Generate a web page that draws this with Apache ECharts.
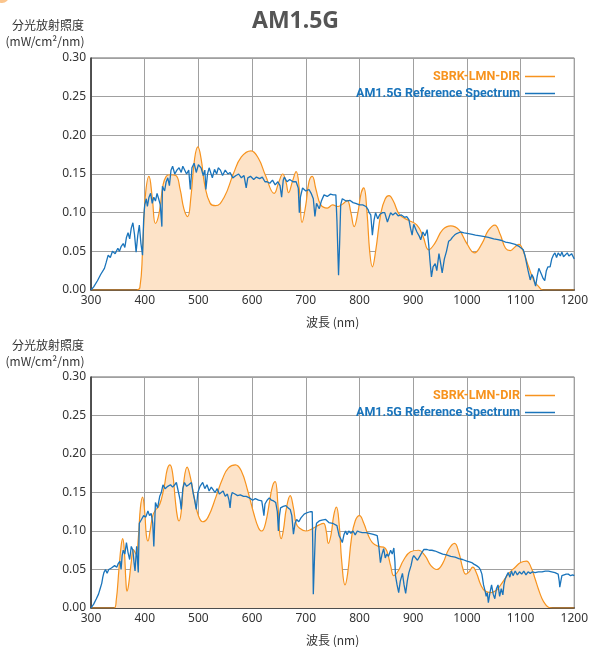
<!DOCTYPE html>
<html>
<head>
<meta charset="utf-8">
<script src="https://cdn.jsdelivr.net/npm/echarts@6/dist/echarts.min.js"></script>
<style>
html,body{margin:0;padding:0;background:#fff;overflow:hidden;}
#c{width:591px;height:647px;}
</style>
</head>
<body>
<div id="c"></div>
<script>
// ---- data ----
var xTicks = [300,400,500,600,700,800,900,1000,1100,1200];
var yTicks = [0,0.05,0.10,0.15,0.20,0.25,0.30];
var seriesNames = ['SBRK-LMN-DIR','AM1.5G Reference Spectrum'];

var sbrkTop = [[300,0],[385,0],[391,0.003],[396,0.05],[401,0.12],[408,0.147],[414,0.12],[420,0.086],[427,0.1],[434,0.135],[440,0.147],[447,0.149],[458,0.148],[466,0.13],[473,0.105],[480,0.095],[486,0.12],[493,0.17],[499,0.185],[505,0.17],[512,0.135],[522,0.112],[532,0.109],[548,0.12],[565,0.15],[580,0.172],[598,0.18],[612,0.17],[625,0.148],[641,0.125],[650,0.14],[657,0.150],[663,0.14],[668,0.126],[675,0.14],[682,0.153],[688,0.13],[693,0.087],[700,0.11],[706,0.14],[712,0.147],[719,0.13],[728,0.11],[740,0.106],[750,0.11],[760,0.108],[770,0.112],[777,0.116],[784,0.1],[790,0.082],[797,0.1],[803,0.125],[808,0.132],[814,0.1],[819,0.05],[824,0.030],[830,0.05],[840,0.1],[848,0.118],[855,0.122],[863,0.115],[875,0.097],[892,0.09],[907,0.084],[918,0.07],[929,0.052],[940,0.06],[955,0.078],[970,0.083],[985,0.078],[1000,0.06],[1014,0.048],[1028,0.06],[1040,0.077],[1052,0.084],[1062,0.072],[1072,0.054],[1081,0.051],[1090,0.056],[1097,0.059],[1105,0.05],[1115,0.03],[1125,0.012],[1133,0.005],[1142,0],[1200,0]];

var am15Top = [[300,0],[305,0.004],[312,0.012],[318,0.02],[325,0.028],[328,0.035],[332,0.045],[336,0.042],[340,0.05],[345,0.047],[350,0.054],[353,0.05],[356,0.056],[360,0.06],[363,0.055],[366,0.068],[369,0.074],[372,0.066],[375,0.08],[378,0.087],[381,0.072],[384,0.049],[387,0.07],[390,0.084],[393,0.06],[396,0.045],[398,0.09],[400,0.110],[403,0.118],[405,0.108],[408,0.12],[411,0.125],[414,0.112],[417,0.12],[420,0.115],[423,0.125],[426,0.118],[429,0.11],[432,0.082],[433,0.134],[437,0.128],[440,0.14],[443,0.145],[446,0.135],[449,0.155],[452,0.16],[456,0.15],[460,0.155],[464,0.158],[468,0.152],[471,0.16],[474,0.16],[478,0.15],[482,0.155],[485,0.13],[488,0.158],[492,0.164],[496,0.152],[500,0.162],[505,0.158],[509,0.148],[512,0.155],[514,0.13],[517,0.15],[520,0.158],[522,0.16],[526,0.145],[530,0.156],[534,0.15],[537,0.158],[541,0.155],[545,0.148],[550,0.155],[555,0.15],[559,0.152],[564,0.145],[570,0.148],[575,0.15],[580,0.145],[585,0.148],[589,0.132],[592,0.145],[597,0.147],[603,0.143],[608,0.146],[614,0.144],[619,0.146],[624,0.14],[628,0.14],[633,0.138],[638,0.142],[643,0.136],[648,0.14],[652,0.135],[655,0.12],[658,0.142],[660,0.146],[665,0.14],[670,0.143],[676,0.14],[682,0.14],[686,0.132],[688,0.1],[690,0.12],[694,0.132],[700,0.128],[706,0.13],[710,0.125],[714,0.118],[717,0.095],[720,0.112],[725,0.105],[729,0.115],[734,0.123],[740,0.121],[746,0.124],[751,0.123],[756,0.123],[758,0.09],[761,0.019],[763,0.06],[765,0.11],[768,0.118],[775,0.115],[782,0.116],[788,0.113],[793,0.112],[800,0.11],[806,0.11],[812,0.108],[816,0.104],[818,0.1],[821,0.097],[824,0.071],[827,0.09],[830,0.1],[834,0.092],[838,0.098],[843,0.1],[847,0.1],[849,0.1],[852,0.088],[855,0.09],[858,0.1],[862,0.097],[867,0.1],[872,0.096],[878,0.097],[884,0.094],[888,0.095],[892,0.091],[895,0.08],[898,0.071],[901,0.085],[904,0.08],[907,0.075],[911,0.07],[914,0.065],[918,0.075],[922,0.07],[926,0.078],[929,0.058],[931,0.04],[934,0.017],[937,0.03],[941,0.034],[944,0.025],[948,0.047],[951,0.035],[954,0.022],[958,0.04],[962,0.05],[966,0.063],[970,0.065],[973,0.068],[977,0.071],[981,0.073],[988,0.075],[995,0.074],[1003,0.073],[1010,0.072],[1016,0.071],[1025,0.07],[1033,0.069],[1040,0.068],[1050,0.066],[1058,0.065],[1065,0.064],[1072,0.062],[1080,0.061],[1090,0.059],[1098,0.056],[1105,0.052],[1108,0.045],[1111,0.035],[1114,0.025],[1118,0.013],[1121,0.02],[1124,0.016],[1126,0.01],[1128,0.005],[1131,0.018],[1134,0.028],[1136,0.03],[1139,0.02],[1142,0.015],[1145,0.012],[1148,0.025],[1151,0.03],[1155,0.03],[1158,0.04],[1161,0.045],[1164,0.048],[1167,0.042],[1170,0.048],[1174,0.044],[1177,0.049],[1180,0.043],[1183,0.043],[1187,0.048],[1190,0.044],[1195,0.047],[1200,0.04]];

var sbrkBot = [[300,0],[343,0],[347,0.01],[352,0.05],[356,0.08],[359,0.09],[362,0.075],[365,0.035],[367,0.022],[370,0.03],[375,0.06],[379,0.076],[384,0.07],[388,0.09],[392,0.13],[396,0.144],[400,0.125],[403,0.095],[406,0.087],[410,0.1],[415,0.12],[420,0.127],[426,0.132],[431,0.141],[437,0.16],[442,0.18],[447,0.186],[452,0.175],[457,0.14],[461,0.118],[464,0.113],[468,0.125],[473,0.165],[479,0.183],[485,0.17],[493,0.141],[500,0.12],[508,0.112],[518,0.118],[533,0.145],[545,0.168],[556,0.182],[569,0.186],[580,0.178],[592,0.152],[603,0.123],[612,0.104],[618,0.1],[625,0.11],[633,0.14],[638,0.158],[643,0.164],[648,0.135],[651,0.1],[654,0.09],[658,0.1],[664,0.13],[671,0.146],[677,0.13],[682,0.11],[688,0.104],[700,0.10],[712,0.103],[725,0.108],[733,0.11],[738,0.1],[742,0.084],[747,0.095],[752,0.12],[757,0.131],[762,0.11],[767,0.06],[773,0.03],[778,0.045],[785,0.09],[792,0.113],[800,0.12],[808,0.11],[816,0.095],[824,0.085],[835,0.08],[845,0.079],[851,0.074],[858,0.055],[864,0.042],[872,0.048],[882,0.062],[895,0.073],[910,0.075],[922,0.068],[933,0.055],[944,0.05],[955,0.058],[966,0.076],[977,0.084],[985,0.072],[993,0.05],[998,0.044],[1004,0.047],[1011,0.053],[1018,0.045],[1026,0.03],[1034,0.022],[1045,0.02],[1055,0.023],[1066,0.033],[1077,0.044],[1090,0.053],[1100,0.059],[1111,0.061],[1120,0.052],[1127,0.038],[1133,0.025],[1140,0.012],[1146,0.005],[1152,0.001],[1160,0],[1200,0]];

var am15Bot = [[300,0],[305,0.005],[310,0.012],[314,0.018],[317,0.025],[320,0.032],[322,0.04],[324,0.046],[327,0.05],[330,0.045],[333,0.05],[335,0.048],[338,0.052],[341,0.05],[344,0.055],[348,0.053],[351,0.058],[354,0.061],[356,0.05],[358,0.068],[360,0.075],[363,0.07],[366,0.085],[369,0.072],[372,0.063],[375,0.08],[378,0.075],[380,0.06],[382,0.048],[385,0.08],[388,0.046],[390,0.11],[394,0.115],[398,0.12],[402,0.118],[406,0.126],[409,0.12],[412,0.123],[415,0.11],[417,0.08],[420,0.137],[424,0.13],[428,0.145],[431,0.15],[434,0.16],[438,0.155],[443,0.158],[448,0.16],[452,0.157],[456,0.16],[459,0.163],[463,0.15],[466,0.14],[468,0.128],[471,0.155],[474,0.163],[478,0.158],[482,0.16],[487,0.163],[490,0.15],[493,0.14],[496,0.128],[499,0.15],[503,0.158],[508,0.163],[512,0.155],[516,0.16],[520,0.152],[524,0.157],[527,0.154],[531,0.15],[535,0.155],[539,0.148],[542,0.15],[546,0.152],[550,0.145],[554,0.148],[557,0.14],[559,0.13],[561,0.145],[563,0.15],[568,0.148],[573,0.146],[578,0.147],[584,0.145],[589,0.145],[595,0.143],[601,0.14],[606,0.142],[612,0.14],[618,0.139],[620,0.13],[622,0.12],[624,0.135],[628,0.14],[632,0.143],[636,0.14],[640,0.139],[644,0.137],[647,0.125],[649,0.1],[651,0.12],[653,0.13],[658,0.132],[663,0.133],[667,0.13],[671,0.128],[674,0.12],[677,0.096],[680,0.11],[683,0.115],[687,0.112],[691,0.117],[697,0.122],[703,0.124],[708,0.125],[712,0.125],[713,0.08],[714,0.018],[716,0.06],[718,0.1],[720,0.11],[725,0.113],[730,0.114],[737,0.115],[743,0.111],[750,0.11],[758,0.107],[762,0.094],[765,0.09],[768,0.085],[771,0.095],[774,0.1],[777,0.095],[780,0.1],[784,0.097],[788,0.1],[792,0.095],[796,0.1],[800,0.099],[805,0.098],[812,0.098],[818,0.097],[824,0.096],[829,0.095],[833,0.094],[836,0.08],[839,0.059],[842,0.07],[845,0.077],[848,0.065],[851,0.07],[854,0.067],[858,0.075],[861,0.07],[864,0.078],[866,0.06],[867,0.042],[870,0.03],[873,0.02],[876,0.035],[880,0.045],[883,0.03],[886,0.019],[889,0.035],[892,0.046],[896,0.055],[899,0.065],[901,0.068],[904,0.07],[908,0.062],[913,0.068],[917,0.073],[920,0.076],[925,0.076],[930,0.075],[935,0.075],[941,0.074],[948,0.072],[955,0.07],[962,0.069],[970,0.067],[978,0.066],[985,0.064],[992,0.063],[1000,0.061],[1005,0.06],[1009,0.059],[1013,0.057],[1018,0.055],[1022,0.053],[1025,0.05],[1028,0.044],[1031,0.03],[1034,0.022],[1036,0.015],[1038,0.02],[1040,0.007],[1043,0.02],[1046,0.03],[1049,0.018],[1052,0.012],[1055,0.025],[1058,0.03],[1061,0.015],[1064,0.025],[1067,0.017],[1069,0.03],[1071,0.037],[1074,0.042],[1077,0.046],[1080,0.04],[1083,0.048],[1086,0.042],[1090,0.048],[1094,0.043],[1098,0.047],[1102,0.044],[1106,0.048],[1110,0.043],[1114,0.047],[1118,0.045],[1122,0.047],[1127,0.046],[1133,0.047],[1140,0.047],[1146,0.048],[1152,0.048],[1158,0.047],[1164,0.046],[1170,0.044],[1172,0.035],[1173,0.027],[1175,0.035],[1177,0.042],[1180,0.043],[1185,0.044],[1189,0.044],[1193,0.042],[1197,0.043],[1200,0.042]];

// ---- chart ----
var ORANGE = '#f7931e', BLUE = '#1a74bb', AREA = '#fde3c8';
var FONT = '"Noto Sans CJK JP","Noto Sans",sans-serif';
var chart = echarts.init(document.getElementById('c'), null, {renderer:'canvas', width:591, height:647});

function xAxis(gi){
  return {
    type:'value', gridIndex:gi, min:xTicks[0], max:xTicks[xTicks.length-1], interval:100,
    name:'波長 (nm)', nameLocation:'middle', nameGap:26,
    nameTextStyle:{color:'#333', fontSize:12, fontFamily:FONT},
    axisLine:{show:true, onZero:false, lineStyle:{color:'#333', width:1.5}},
    axisTick:{show:false},
    axisLabel:{color:'#333', fontSize:12, margin:5, fontFamily:'"Noto Sans",sans-serif',
      formatter:function(v){return String(v);}},
    splitLine:{show:true, lineStyle:{color:'#a0a0a0', width:1}}
  };
}
function yAxis(gi){
  return {
    type:'value', gridIndex:gi, min:yTicks[0], max:yTicks[yTicks.length-1], interval:0.05,
    axisLine:{show:true, lineStyle:{color:'#333', width:1.5}},
    axisTick:{show:false},
    axisLabel:{color:'#333', fontSize:12, margin:5, fontFamily:'"Noto Sans",sans-serif',
      formatter:function(v){return v.toFixed(2);}},
    splitLine:{show:true, lineStyle:{color:'#a0a0a0', width:1}}
  };
}
function legend(top){
  return {
    orient:'vertical', right:31, top:top, align:'right', itemGap:4,
    itemWidth:30, itemHeight:1.5, icon:'rect',
    textStyle:{fontSize:12.5, fontWeight:'bold', fontFamily:'Roboto,"Noto Sans",sans-serif', padding:[0,0,0,0]},
    selectedMode:false,
    data:[{name:seriesNames[0], textStyle:{color:ORANGE}},{name:seriesNames[1], textStyle:{color:BLUE}}]
  };
}
function orange(gi, data){
  return {name:seriesNames[0], type:'line', xAxisIndex:gi, yAxisIndex:gi, data:data,
    smooth:0.45, symbol:'none', color:ORANGE,
    lineStyle:{color:ORANGE, width:1.2}, areaStyle:{color:AREA, opacity:1}, z:2};
}
function blue(gi, data){
  return {name:seriesNames[1], type:'line', xAxisIndex:gi, yAxisIndex:gi, data:data,
    symbol:'none', color:BLUE, lineStyle:{color:BLUE, width:1.3}, z:3};
}

chart.setOption({
  animation:false,
  backgroundColor:'#fff',
  grid:[
    {left:91, right:11, top:58, height:232, show:true, borderColor:'#666', borderWidth:1},
    {left:91, right:11, top:377, height:232, show:true, borderColor:'#666', borderWidth:1}
  ],
  xAxis:[xAxis(0), xAxis(1)],
  yAxis:[yAxis(0), yAxis(1)],
  legend:[legend(65), legend(384)],
  graphic:[
    {type:'circle', shape:{cx:2, cy:-4, r:7}, style:{fill:'#fbc58d'}},
    {type:'text', left:'center', top:10, style:{text:'AM1.5G', fontSize:23, fontWeight:'bold', fill:'#555', fontFamily:'"Noto Sans",sans-serif'}},
    {type:'text', x:48, y:25, style:{text:'分光放射照度', fontSize:12, fill:'#333', align:'center', verticalAlign:'middle', fontFamily:FONT}},
    {type:'text', x:45, y:41, style:{text:'(mW/cm²/nm)', fontSize:12, fill:'#333', align:'center', verticalAlign:'middle', fontFamily:FONT}},
    {type:'text', x:48, y:345, style:{text:'分光放射照度', fontSize:12, fill:'#333', align:'center', verticalAlign:'middle', fontFamily:FONT}},
    {type:'text', x:45, y:361, style:{text:'(mW/cm²/nm)', fontSize:12, fill:'#333', align:'center', verticalAlign:'middle', fontFamily:FONT}}
  ],
  series:[orange(0,sbrkTop), blue(0,am15Top), orange(1,sbrkBot), blue(1,am15Bot)]
});
</script>
</body>
</html>
